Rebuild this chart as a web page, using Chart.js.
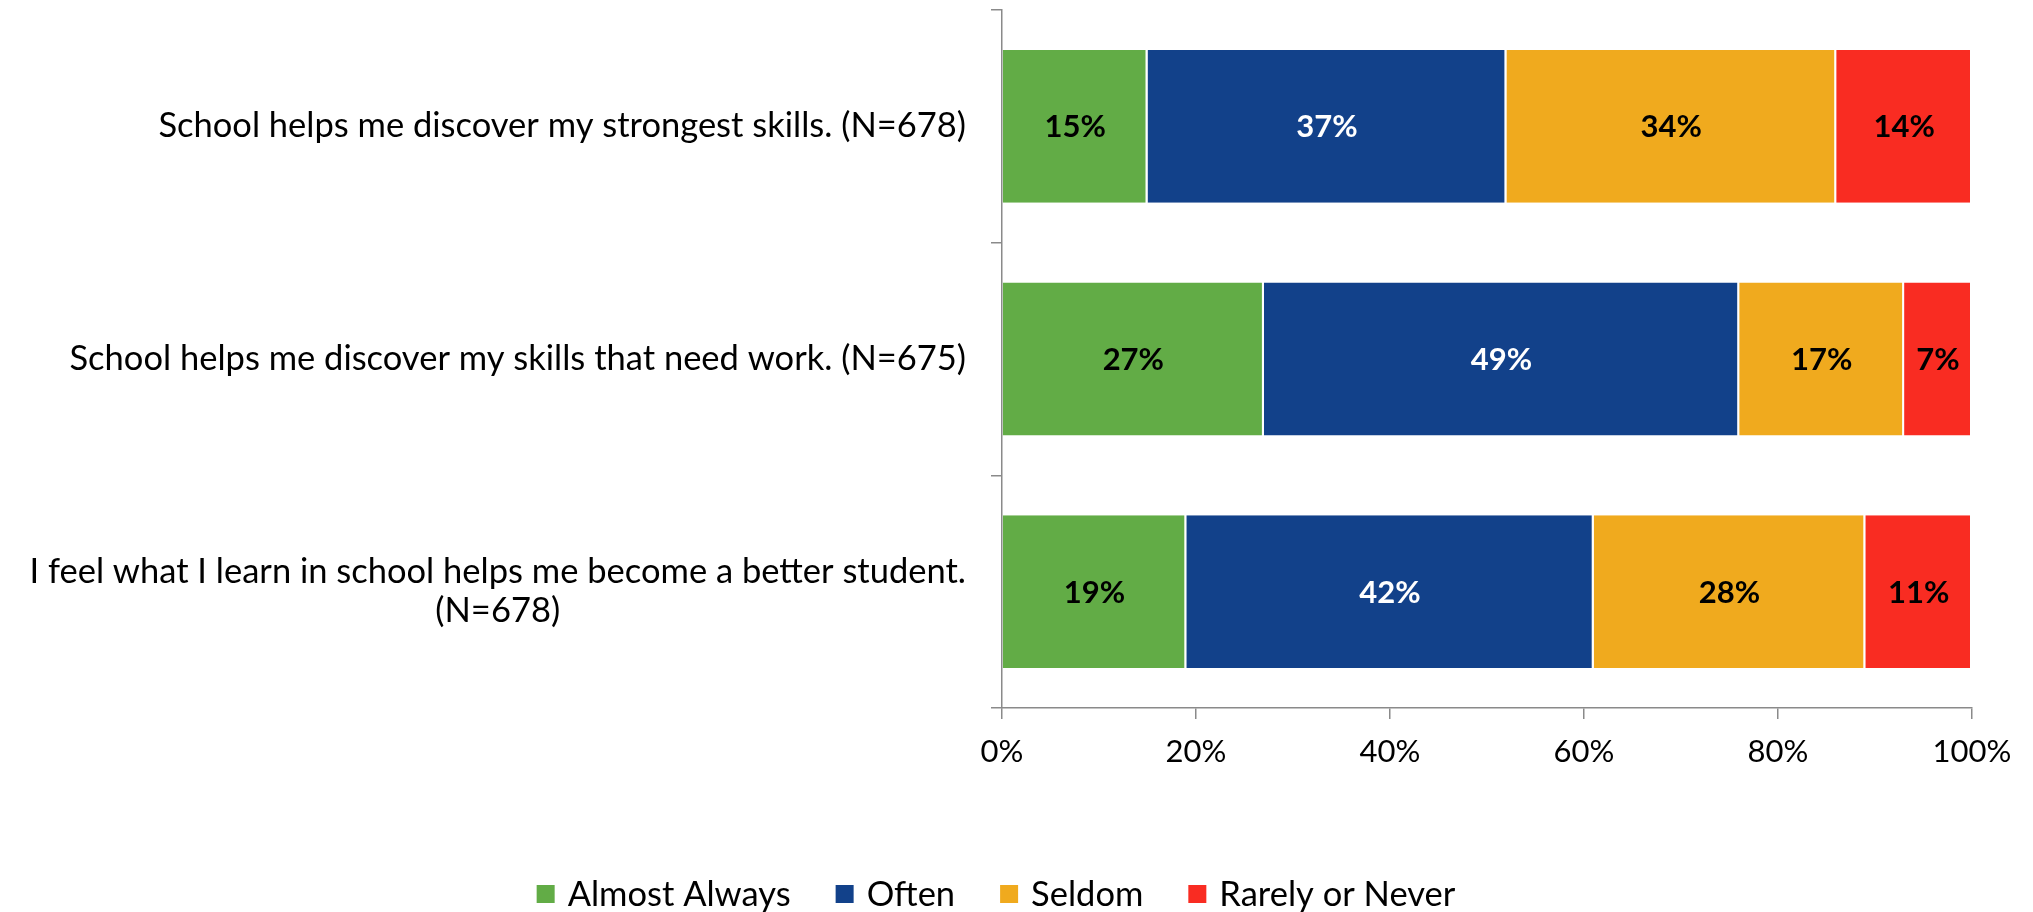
<!DOCTYPE html>
<html>
<head>
<meta charset="utf-8">
<title>School skills survey</title>
<script src="https://cdn.jsdelivr.net/npm/chart.js@4.4.1/dist/chart.umd.min.js"></script>
<style>
    html, body { margin: 0; padding: 0; background: #ffffff; }
    #wrap { width: 2033px; height: 912px; }
</style>
</head>
<body>
<div id="wrap"><canvas id="surveyChart" width="2033" height="912"></canvas></div>
<script>
// Survey data (percent of respondents)
const categories = [
    ['School helps me discover my strongest skills. (N=678)'],
    ['School helps me discover my skills that need work. (N=675)'],
    ['I feel what I learn in school helps me become a better student.', '(N=678)']
];
const seriesNames = ['Almost Always', 'Often', 'Seldom', 'Rarely or Never'];
const almostAlways = [15, 27, 19];
const often = [37, 49, 42];
const seldom = [34, 17, 28];
const rarelyNever = [14, 7, 11];
const xTicks = [0, 20, 40, 60, 80, 100];

const seriesColors = ['#62ac46', '#12418a', '#f0aa1e', '#f92c22'];
const valueColors = ['#000000', '#ffffff', '#000000', '#000000'];

const FONT = 'Lato, "Open Sans", sans-serif';
const FONT_SIZE = 31;      // ticks and values
const TEXT_SIZE = 34.5;    // category labels and legend
const LINE_H = 39;
const AXIS_GREY = '#8a8a8a';

// Category labels: block right-aligned to the axis, lines centered in the block
const categoryLabels = {
    id: 'categoryLabels',
    afterDraw(chart) {
        const ctx = chart.ctx;
        const yScale = chart.scales.y;
        const right = chart.chartArea.left - 36;
        ctx.save();
        ctx.font = TEXT_SIZE + 'px ' + FONT;
        ctx.fillStyle = '#000';
        ctx.textAlign = 'center';
        ctx.textBaseline = 'middle';
        categories.forEach((lines, i) => {
            const blockW = Math.max(...lines.map(l => ctx.measureText(l).width));
            const cx = right - blockW / 2;
            const cy = yScale.getPixelForValue(i);
            lines.forEach((line, j) => {
                ctx.fillText(line, cx, cy + (j - (lines.length - 1) / 2) * LINE_H);
            });
        });
        ctx.restore();
    }
};

// Percent labels in the middle of each segment
const segmentLabels = {
    id: 'segmentLabels',
    afterDatasetsDraw(chart) {
        const ctx = chart.ctx;
        ctx.save();
        ctx.font = 'bold ' + FONT_SIZE + 'px ' + FONT;
        ctx.textAlign = 'center';
        ctx.textBaseline = 'middle';
        chart.data.datasets.forEach((ds, d) => {
            const meta = chart.getDatasetMeta(d);
            ctx.fillStyle = valueColors[d];
            meta.data.forEach((bar, i) => {
                ctx.fillText(ds.data[i] + '%', (bar.x + bar.base) / 2, bar.y + 1);
            });
        });
        ctx.restore();
    }
};

// Legend drawn by hand so the item spacing can match the original
const bottomLegend = {
    id: 'bottomLegend',
    afterDraw(chart) {
        const ctx = chart.ctx;
        const box = 18, gap = 13, spacing = 45;
        const centerX = 996, centerY = 894;
        ctx.save();
        ctx.font = TEXT_SIZE + 'px ' + FONT;
        ctx.textBaseline = 'middle';
        ctx.textAlign = 'left';
        const widths = seriesNames.map(n => ctx.measureText(n).width);
        const total = widths.reduce((a, w) => a + box + gap + w, 0) + spacing * (seriesNames.length - 1);
        let x = centerX - total / 2;
        seriesNames.forEach((name, i) => {
            ctx.fillStyle = seriesColors[i];
            ctx.fillRect(x, centerY - box / 2, box, box);
            ctx.fillStyle = '#000';
            ctx.fillText(name, x + box + gap, centerY + 1);
            x += box + gap + widths[i] + spacing;
        });
        ctx.restore();
    }
};

const seriesValues = [almostAlways, often, seldom, rarelyNever];

new Chart(document.getElementById('surveyChart'), {
    type: 'bar',
    data: {
        labels: categories,
        datasets: seriesNames.map((name, i) => ({
            label: name,
            data: seriesValues[i],
            backgroundColor: seriesColors[i],
            borderColor: '#ffffff',
            borderWidth: { top: 0, right: 2, bottom: 0, left: 0 },
            borderSkipped: false,
            barPercentage: 0.657,
            categoryPercentage: 1
        }))
    },
    options: {
        indexAxis: 'y',
        responsive: false,
        animation: false,
        layout: { padding: { top: 10, right: 61, bottom: 0, left: 0 } },
        plugins: {
            legend: { display: false },
            tooltip: { enabled: false }
        },
        scales: {
            x: {
                stacked: true,
                min: 0,
                max: 100,
                afterBuildTicks: (scale) => { scale.ticks = xTicks.map(v => ({ value: v })); },
                ticks: {
                    callback: (v) => v + '%',
                    color: '#000',
                    font: { family: FONT, size: FONT_SIZE },
                    padding: 14,
                    maxRotation: 0
                },
                grid: { drawOnChartArea: false, tickLength: 11, color: AXIS_GREY, lineWidth: 1.5 },
                border: { color: AXIS_GREY, width: 1.5 },
                afterFit: (scale) => { scale.height = 204; }
            },
            y: {
                stacked: true,
                ticks: { display: false },
                grid: { offset: true, drawOnChartArea: false, tickLength: 11, color: AXIS_GREY, lineWidth: 1.5 },
                border: { color: AXIS_GREY, width: 1.5 },
                afterFit: (scale) => { scale.width = 1002; }
            }
        }
    },
    plugins: [categoryLabels, segmentLabels, bottomLegend]
});
</script>
</body>
</html>
